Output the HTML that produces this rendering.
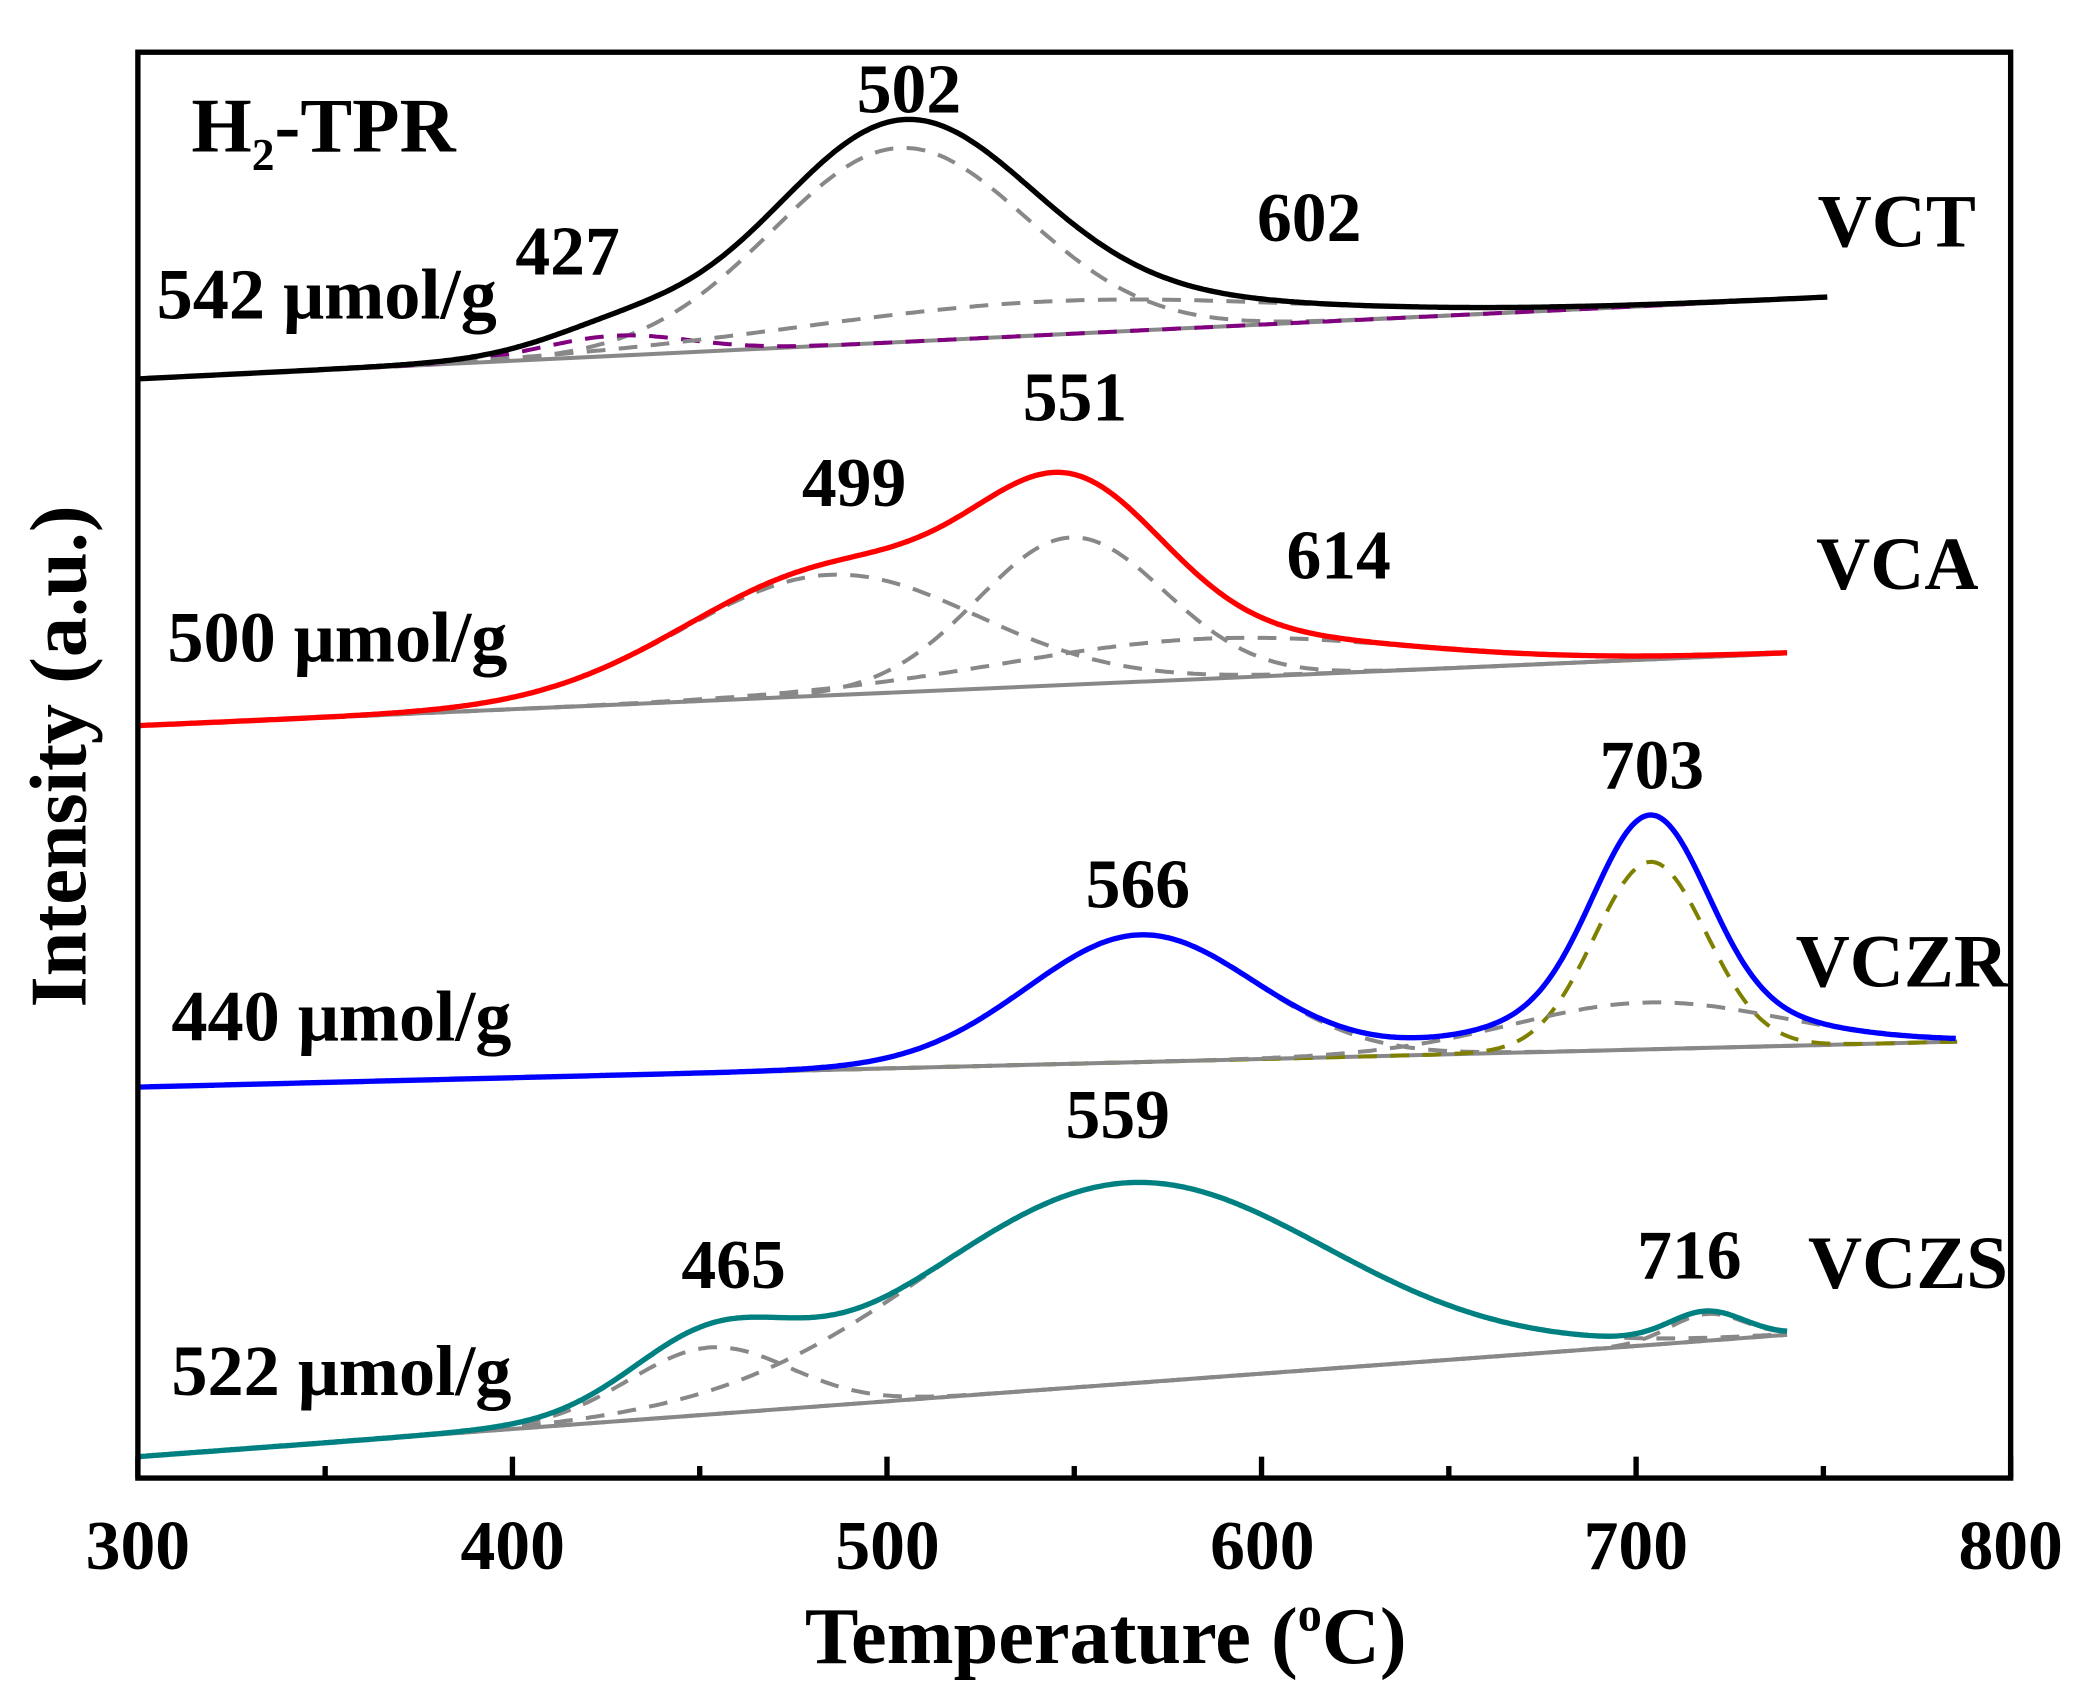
<!DOCTYPE html>
<html><head><meta charset="utf-8"><style>
html,body{margin:0;padding:0;background:#fff;}
svg{display:block;}
text{font-family:"Liberation Serif",serif;font-weight:bold;fill:#000;}
</style></head><body>
<svg id="s" width="2099" height="1703" viewBox="0 0 1568 1272" preserveAspectRatio="none" xmlns="http://www.w3.org/2000/svg">
<rect x="0" y="0" width="1568" height="1272" fill="#fff"/>
<g id="curves"></g>
<rect x="103" y="39" width="1399" height="1065" fill="none" stroke="#000" stroke-width="4"/>
<g id="ticks" stroke="#000" stroke-width="4"></g>
<g font-size="52" text-anchor="middle">
<text x="103" y="1172">300</text><text x="383" y="1172">400</text><text x="663" y="1172">500</text>
<text x="943" y="1172">600</text><text x="1222" y="1172">700</text><text x="1502" y="1172">800</text>
</g>
<text x="826" y="1242" font-size="60" text-anchor="middle">Temperature (<tspan font-size="36" dy="-24">o</tspan><tspan dy="24">C)</tspan></text>
<text transform="translate(64,565) rotate(-90)" font-size="60" text-anchor="middle">Intensity (a.u.)</text>
<g font-size="52">
<text x="143" y="113" font-size="58">H<tspan font-size="34" dy="14">2</tspan><tspan dy="-14">-TPR</tspan></text>
<text x="679" y="84" text-anchor="middle">502</text>
<text x="424" y="205" text-anchor="middle">427</text>
<text x="978" y="180" text-anchor="middle">602</text>
<text x="117" y="238" font-size="54">542 μmol/g</text>
<text x="1476" y="184" text-anchor="end" font-size="56">VCT</text>
<text x="638" y="378" text-anchor="middle">499</text>
<text x="803" y="314" text-anchor="middle">551</text>
<text x="1000" y="432" text-anchor="middle">614</text>
<text x="125" y="494" font-size="54">500 μmol/g</text>
<text x="1478" y="440" text-anchor="end" font-size="56">VCA</text>
<text x="850" y="678" text-anchor="middle">566</text>
<text x="1234" y="589" text-anchor="middle">703</text>
<text x="128" y="777" font-size="54">440 μmol/g</text>
<text x="1500" y="737" text-anchor="end" font-size="56">VCZR</text>
<text x="548" y="962" text-anchor="middle">465</text>
<text x="835" y="850" text-anchor="middle">559</text>
<text x="1262" y="955" text-anchor="middle">716</text>
<text x="128" y="1042" font-size="54">522 μmol/g</text>
<text x="1500" y="962" text-anchor="end" font-size="56">VCZS</text>
</g>
</svg>
<script>
(function(){
var NS="http://www.w3.org/2000/svg";
var g=document.getElementById('curves'),t=document.getElementById('ticks');
function el(p,a){var e=document.createElementNS(NS,'path');e.setAttribute('d',p);for(var k in a)e.setAttribute(k,a[k]);return e;}
for(var T=300;T<=800;T+=50){var x=103+2.798*(T-300);var L=(T%100==0)?16:9;t.appendChild(el('M'+x+' 1104V'+(1104-L),{}));}
var S=[
 {x0:103,y0:283,x1:1365,y1:222,c:'#000',G:[[672,145,95,'#888'],[460,15,55,'#800080'],[780,25,180,'#888']]},
 {x0:103,y0:542,x1:1335,y1:488,c:'#f00',G:[[620,90,110,'#888'],[800,110,70,'#888'],[900,30,150,'#888']]},
 {x0:103,y0:812,x1:1462,y1:778,c:'#00f',G:[[852,95,85,'#888'],[1233,140,42,'#808000'],[1230,35,100,'#888']]},
 {x0:103,y0:1088,x1:1335,y1:997,c:'#008080',G:[[530,50,60,'#888'],[840,150,150,'#888'],[1275,20,28,'#888']]}
];
S.forEach(function(s){
 function b(x){return s.y0+(s.y1-s.y0)*(x-s.x0)/(s.x1-s.x0);}
 function gv(q,x){return q[1]*Math.exp(-Math.pow(x-q[0],2)/(2*q[2]*q[2]));}
 g.appendChild(el('M'+s.x0+' '+s.y0+'L'+s.x1+' '+s.y1,{stroke:'#888','stroke-width':3,fill:'none'}));
 s.G.forEach(function(q){var d='';for(var x=s.x0;x<=s.x1;x+=3){var y=b(x)-gv(q,x);d+=(d?'L':'M')+x+' '+y.toFixed(1);}
  g.appendChild(el(d,{stroke:q[3],'stroke-width':3,fill:'none','stroke-dasharray':'14 10'}));});
 var d='';for(var x=s.x0;x<=s.x1;x+=2){var y=b(x);s.G.forEach(function(q){y-=gv(q,x);});d+=(d?'L':'M')+x+' '+y.toFixed(1);}
 g.appendChild(el(d,{stroke:s.c,'stroke-width':4,fill:'none'}));
});
})();
</script>
</body></html>
